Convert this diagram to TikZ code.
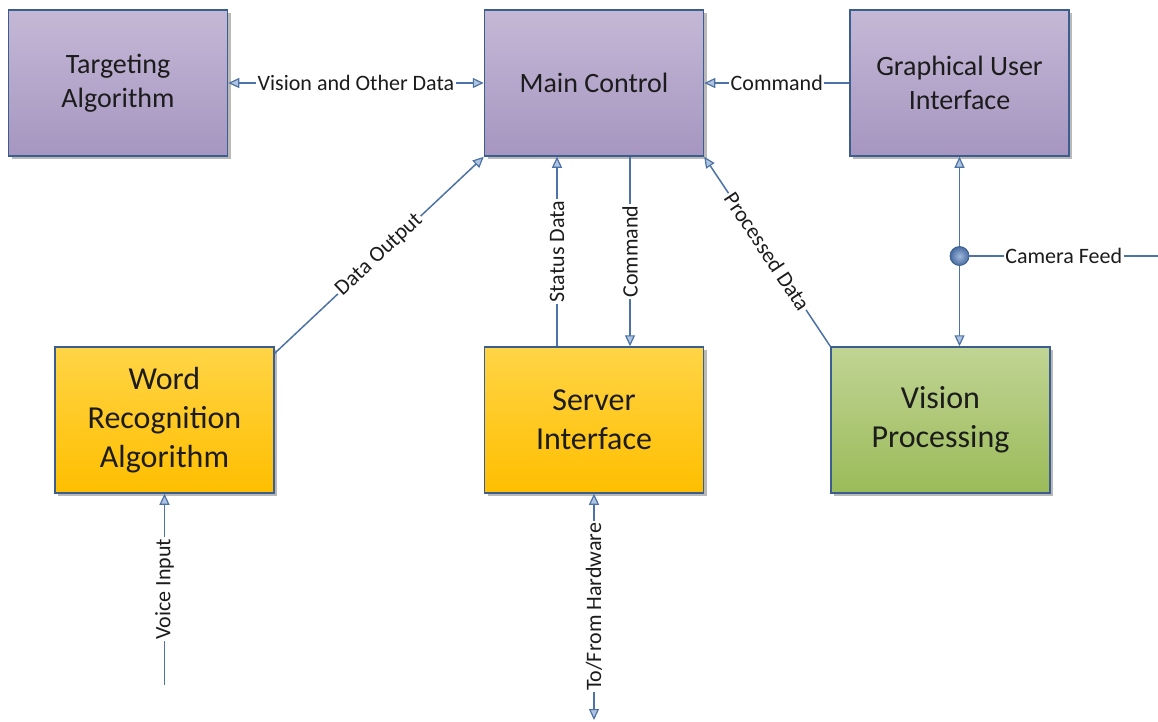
\documentclass[tikz,border=0pt]{standalone}
\usepackage{fontspec}
\setmainfont{Carlito}
\usetikzlibrary{arrows.meta,shadows}

\definecolor{purpletop}{RGB}{196,184,214}
\definecolor{purplebot}{RGB}{166,150,192}
\definecolor{yellowtop}{RGB}{255,212,70}
\definecolor{yellowbot}{RGB}{255,191,0}
\definecolor{greentop}{RGB}{192,212,148}
\definecolor{greenbot}{RGB}{155,187,89}
\definecolor{boxline}{RGB}{60,94,143}
\definecolor{linkblue}{RGB}{76,114,166}
\definecolor{tipfill}{RGB}{175,196,225}
\definecolor{textdark}{RGB}{28,28,28}
\definecolor{dotlight}{RGB}{160,185,220}
\definecolor{dotdark}{RGB}{70,106,160}

\begin{document}
\begin{tikzpicture}[x=1pt,y=-1pt,
  block/.style={draw=boxline, line width=1.5pt, minimum width=219pt,
    minimum height=146pt, align=center, text=textdark, inner sep=0pt,
    drop shadow={shadow xshift=3pt, shadow yshift=-3pt, fill=black!50, opacity=.55}},
  purplebox/.style={block, top color=purpletop, bottom color=purplebot,
    font=\fontsize{28}{34}\selectfont},
  yellowbox/.style={block, top color=yellowtop, bottom color=yellowbot,
    font=\fontsize{32}{39}\selectfont},
  greenbox/.style={block, top color=greentop, bottom color=greenbot,
    font=\fontsize{32}{39}\selectfont},
  link/.style={draw=linkblue, line width=1.5pt,
    >={Triangle[length=11pt, width=10pt, fill=tipfill, line width=1.2pt]}},
  lbl/.style={fill=white, inner sep=1.5pt, text=textdark,
    font=\fontsize{22}{26}\selectfont},
  junction/.style={circle, draw=boxline, line width=0.8pt,
    inner color=dotlight, outer color=dotdark, minimum size=19pt, inner sep=0pt}
]
\useasboundingbox (0,0) rectangle (1158,721);

% blocks
\node[purplebox] (targ) at (118,83)   {Targeting\\Algorithm};
\node[purplebox] (main) at (594,83)   {Main Control};
\node[purplebox] (gui)  at (959.5,83) {Graphical User\\Interface};
\node[yellowbox] (word) at (164.5,420) {Word\\Recognition\\Algorithm};
\node[yellowbox] (server) at (594,420) {Server\\Interface};
\node[greenbox]  (vis)  at (940.5,420) {Vision\\Processing};

% free ends
\coordinate (voice) at (164.5,685);
\coordinate (hw)    at (594,720);
\coordinate (feed)  at (1158,256);

% connectors between blocks
\draw[link,<->] (targ) -- node[lbl] {Vision and Other Data} (main);
\draw[link,->] (gui) -- node[lbl] {Command} (main);
\draw[link,->] ([yshift=-7pt]word.north east) -- node[lbl,sloped] {Data Output} (main.south west);
\draw[link,->] ([xshift=-37pt]server.north) -- node[lbl,rotate=90] {Status Data} ([xshift=-37pt]main.south);
\draw[link,->] ([xshift=36pt]main.south) -- node[lbl,rotate=90] {Command} ([xshift=36pt]server.north);
\draw[link,->] (vis.north west) -- node[lbl,sloped] {Processed Data} (main.south east);
\draw[link,<->] (gui.south) -- (gui.south |- vis.north);

% camera feed tap
\node[junction] (tap) at (959.5,256) {};
\draw[link] (tap) -- node[lbl] {Camera Feed} (feed);

% external inputs
\draw[link,->] (voice) -- node[lbl,rotate=90] {Voice Input} (word);
\draw[link,<->] (server.south) -- node[lbl,rotate=90] {To/From Hardware} (hw);
\end{tikzpicture}
\end{document}
